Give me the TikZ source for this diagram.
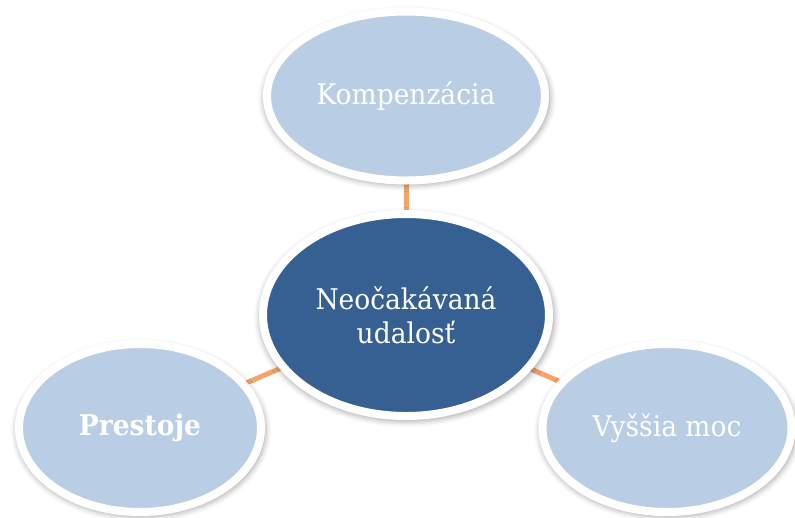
\documentclass[tikz,border=0pt]{standalone}
\usepackage{fontspec}
\setmainfont{DejaVu Serif}[FakeStretch=0.93]
\usetikzlibrary{shapes.geometric,shadows.blur,backgrounds}
\definecolor{lightblue}{HTML}{B9CDE5}
\definecolor{darkblue}{HTML}{366092}
\definecolor{linkorange}{HTML}{F8A36A}
\tikzset{
  bubble/.style={ellipse, draw=white, line width=8pt, inner sep=0pt,
    text=white, align=center,
    font=\fontsize{28.5}{34}\selectfont,
    blur shadow={shadow xshift=1pt, shadow yshift=-2.5pt, shadow scale=1.035,
      shadow blur radius=5pt, shadow opacity=30}},
  outer/.style={bubble, fill=lightblue},
  hub/.style={bubble, fill=darkblue},
  link/.style={draw=linkorange, line width=5pt}
}
\begin{document}
\begin{tikzpicture}[x=1pt, y=-1pt]
  \useasboundingbox (0,0) rectangle (795,517);
  % central event and its three consequences
  \node[hub, minimum width=286pt, minimum height=202pt] (event) at (406,315)
    {Neočakávaná\\udalosť};
  \node[outer, minimum width=278pt, minimum height=169pt] (comp) at (406,96)
    {Kompenzácia};
  \node[outer, minimum width=242pt, minimum height=168pt] (down) at (140,428)
    {\textbf{Prestoje}};
  \node[outer, minimum width=249pt, minimum height=168pt] (force) at (667,428)
    {Vyššia moc};
  % connectors run behind the bubbles
  \begin{scope}[on background layer]
    \draw[link] (event.center) -- (comp.center);
    \draw[link] (event.center) -- (down.center);
    \draw[link] (event.center) -- (force.center);
  \end{scope}
\end{tikzpicture}
\end{document}
